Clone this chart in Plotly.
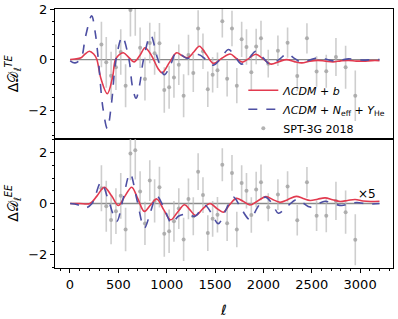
import plotly.graph_objects as go
from plotly.subplots import make_subplots

# ---------------- data ----------------
# band-power centres (SPT-3G 2018 style binning)
ell_data = [325, 375, 425, 475, 525, 575, 625, 675, 725, 775, 825, 875, 925, 975,
            1025, 1075, 1125, 1175, 1225, 1275, 1325, 1375, 1425, 1475, 1525, 1575,
            1625, 1675, 1725, 1775, 1825, 1875, 1925, 1975,
            2050, 2150, 2250, 2350, 2450, 2550, 2650, 2750, 2850, 2950]
te_res = [0.60, -0.11, -0.64, -0.30, 0.30, -1.03, 1.96, 2.09, 0.47, -0.77, 0.66, 0.25, 0.65, -1.20,
          -1.09, -0.71, -0.20, -1.43, 0.18, -0.53, 1.23, 0.33, -1.17, -0.60, -0.42, 1.52,
          -0.76, 1.23, -1.03, 0.80, 0.50, -0.50, 0.52, 0.84,
          -0.16, 0.35, 0.67, -0.65, 0.84, -0.47, -0.46, 0.10, -0.30, -1.43]
ee_res = [0.60, -0.11, -0.65, -0.30, 0.30, -1.02, 1.96, 2.09, 0.47, -0.78, 0.90, 0.10, 0.64, -1.19,
          -1.09, -0.70, -0.20, -1.41, 0.18, -0.50, 1.25, 0.33, -1.16, -0.60, -0.44, 1.52,
          -0.77, 1.20, -1.02, 0.80, 0.50, -0.45, 0.55, 0.83,
          -0.15, 0.35, 0.67, -0.66, 0.83, -0.48, -0.48, 0.10, -0.34, -1.42]
res_err = [0.90, 1.00, 0.95, 0.90, 0.90, 0.85, 1.05, 1.15, 0.80, 0.85, 0.80, 0.85, 0.80, 0.90,
           0.85, 0.80, 0.80, 0.85, 0.80, 0.75, 0.72, 0.70, 0.70, 0.70, 0.70, 0.65,
           0.70, 0.70, 0.70, 0.70, 0.70, 0.70, 0.70, 0.70,
           0.55, 0.60, 0.60, 0.60, 0.60, 0.60, 0.65, 0.75, 0.85, 1.00]

# model residual curves (TE)
ell_te_b = [2, 50, 114, 150, 200, 245, 276, 320, 386, 440, 470, 510, 552, 610, 662, 720,
            776, 820, 865, 910, 953, 1030, 1103, 1160, 1217, 1280, 1338, 1410, 1483, 1570,
            1655, 1720, 1783, 1850, 1921, 2000, 2079, 2160, 2241, 2320, 2397, 2480, 2560,
            2640, 2720, 2800, 2880, 2960, 3040, 3120, 3200]
te_b = [0.0, 0.02, 0.07, 0.20, 0.33, 0.22, 0.02, -0.75, -1.35, -0.70, 0.0, 0.20, 0.27, 0.08,
        -0.09, 0.15, 0.47, 0.30, 0.0, -0.35, -0.52, -0.10, 0.27, 0.15, 0.07, 0.30, 0.53,
        0.20, -0.15, 0.05, 0.22, 0.05, -0.10, 0.05, 0.21, 0.02, -0.18, -0.08, 0.0, -0.08,
        -0.13, -0.06, -0.03, -0.06, -0.09, -0.05, -0.03, -0.06, -0.06, -0.04, -0.04]

ell_te_n = [2, 52, 114, 160, 224, 260, 293, 340, 386, 430, 476, 541, 610, 645, 683, 720,
            760, 834, 905, 975, 1040, 1103, 1210, 1327, 1405, 1483, 1560, 1640, 1710, 1776,
            1850, 1922, 1995, 2069, 2160, 2248, 2320, 2397, 2480, 2569, 2640, 2720, 2800,
            2880, 2960, 3040, 3120, 3200]
te_n = [-0.05, -0.13, 0.05, 0.90, 1.73, 1.10, 0.0, -1.90, -2.73, -1.70, 0.0, 0.90, 0.0,
        -1.05, -1.53, -1.00, 0.0, 0.96, 0.05, -0.60, -0.20, 0.29, 0.05, 0.20, 0.0, -0.22,
        0.05, 0.40, 0.10, -0.18, 0.05, 0.33, 0.08, -0.19, 0.0, 0.23, 0.05, -0.11, -0.02,
        0.08, 0.02, -0.05, -0.02, 0.03, 0.0, -0.02, 0.0, 0.0]

# model residual curves (EE)
ell_ee_b = [2, 100, 207, 280, 355, 430, 500, 570, 638, 700, 769, 835, 897, 970, 1041, 1110,
            1185, 1240, 1300, 1375, 1448, 1520, 1586, 1650, 1720, 1785, 1860, 1940, 2025,
            2100, 2172, 2250, 2340, 2410, 2483, 2560, 2638, 2715, 2793, 2870, 2948, 3030,
            3110, 3200]
ee_b = [0.0, 0.0, 0.0, 0.30, 0.64, 0.30, -0.08, 0.30, 0.64, 0.20, -0.31, -0.05, 0.18, -0.25,
        -0.64, -0.35, -0.05, -0.25, -0.47, -0.20, 0.0, -0.20, -0.34, -0.05, 0.20, 0.10,
        -0.06, 0.10, 0.27, 0.15, 0.05, 0.15, 0.28, 0.20, 0.12, 0.17, 0.22, 0.15, 0.08, 0.12,
        0.16, 0.10, 0.08, 0.09]

ell_ee_n = [2, 80, 155, 228, 321, 400, 483, 550, 621, 695, 769, 835, 897, 975, 1052, 1120,
            1190, 1240, 1293, 1397, 1465, 1534, 1612, 1690, 1770, 1858, 1940, 2017, 2090,
            2155, 2250, 2345, 2410, 2483, 2560, 2638, 2720, 2810, 2890, 2966, 3080, 3200]
ee_n = [0.0, -0.05, -0.18, 0.0, 0.83, 0.10, -0.70, 0.20, 1.18, 0.10, -0.96, -0.30, 0.30,
        -0.20, -0.78, -0.50, -0.42, -0.45, -0.50, -0.08, -0.40, -0.79, -0.25, 0.25, -0.20,
        -0.62, -0.15, 0.25, 0.0, -0.38, -0.10, 0.16, 0.02, -0.14, -0.02, 0.09, 0.0, -0.08,
        -0.01, 0.04, -0.02, 0.0]

x_ticks = [0, 500, 1000, 1500, 2000, 2500, 3000]
y_ticks = [-2, 0, 2]

# ---------------- styling ----------------
FONT = "DejaVu Sans"
RED = "#e23a4f"
BLUE = "#4d4fa3"
GREY_PT = "rgba(165,165,165,0.85)"
GREY_BAR = "rgba(185,185,185,0.7)"
ZERO = "#8a8a8a"

fig = make_subplots(rows=2, cols=1, shared_xaxes=True, vertical_spacing=0)

for row, res, cb, yb, cn, yn in [
    (1, te_res, ell_te_b, te_b, ell_te_n, te_n),
    (2, ee_res, ell_ee_b, ee_b, ell_ee_n, ee_n),
]:
    first = row == 1
    fig.add_trace(go.Scatter(x=[cb[0], cb[-1]], y=[0, 0], mode="lines",
                             line=dict(color=ZERO, width=1.3), showlegend=False,
                             hoverinfo="skip"), row=row, col=1)
    fig.add_trace(go.Scatter(x=ell_data, y=res, mode="markers",
                             marker=dict(color=GREY_PT, size=4),
                             error_y=dict(type="data", array=res_err, color=GREY_BAR,
                                          thickness=1.6, width=0),
                             name="SPT-3G 2018", legendrank=3, showlegend=first),
                  row=row, col=1)
    fig.add_trace(go.Scatter(x=cb, y=yb, mode="lines", line_shape="spline",
                             line=dict(color=RED, width=1.6, smoothing=1.0),
                             name="<i>ΛCDM</i> + <i>b</i>", legendrank=1, showlegend=first),
                  row=row, col=1)
    fig.add_trace(go.Scatter(x=cn, y=yn, mode="lines", line_shape="spline",
                             line=dict(color=BLUE, width=1.6, dash="dash", smoothing=1.0),
                             name="<i>ΛCDM</i> + <i>N</i><sub>eff</sub> + <i>Y</i><sub>He</sub>",
                             legendrank=2, showlegend=first),
                  row=row, col=1)

axis_common = dict(showline=True, linecolor="black", linewidth=1, mirror=True,
                   showgrid=False, zeroline=False, ticks="outside", ticklen=4,
                   tickcolor="black", automargin=False,
                   tickfont=dict(family=FONT, size=13, color="black"))

fig.update_xaxes(range=[-155, 3340], tickvals=x_ticks, **axis_common)
fig.update_xaxes(showticklabels=False, ticks="", row=1, col=1)
fig.update_xaxes(minor=dict(dtick=100, ticklen=2, ticks="outside", tickcolor="black"),
                 title=dict(text="<i>ℓ</i>", font=dict(family=FONT, size=14), standoff=14),
                 row=2, col=1)

fig.update_yaxes(tickvals=y_ticks, ticktext=["−2", "0", "2"],
                 minor=dict(dtick=0.5, ticklen=2, ticks="outside", tickcolor="black"),
                 **axis_common)
fig.update_yaxes(range=[-3.12, 2.0], domain=[0.5, 1.0],
                 title=dict(text="Δ𝒟<sub><i>ℓ</i></sub><sup><i>TE</i></sup>",
                            font=dict(family=FONT, size=14), standoff=6), row=1, col=1)
fig.update_yaxes(range=[-2.53, 2.55], domain=[0.0, 0.5],
                 title=dict(text="Δ𝒟<sub><i>ℓ</i></sub><sup><i>EE</i></sup>",
                            font=dict(family=FONT, size=14), standoff=6), row=2, col=1)

fig.add_annotation(x=3070, y=0.36, xref="x2", yref="y2", text="×5", showarrow=False,
                   font=dict(family=FONT, size=12, color="black"))

fig.update_layout(
    width=398, height=319,
    margin=dict(l=55, r=5, t=9, b=51, autoexpand=False),
    paper_bgcolor="white", plot_bgcolor="white",
    font=dict(family=FONT, color="black"),
    legend=dict(x=0.995, y=0.742, xanchor="right", yanchor="top",
                bgcolor="rgba(0,0,0,0)", font=dict(family=FONT, size=11),
                tracegroupgap=0, itemwidth=30),
)

# remove the browser's default 8px body margin so the figure sits at the page origin
fig.write_html("out.html",
               config={"displayModeBar": False},
               post_script="document.body.style.margin='0';document.body.style.overflow='hidden';")
